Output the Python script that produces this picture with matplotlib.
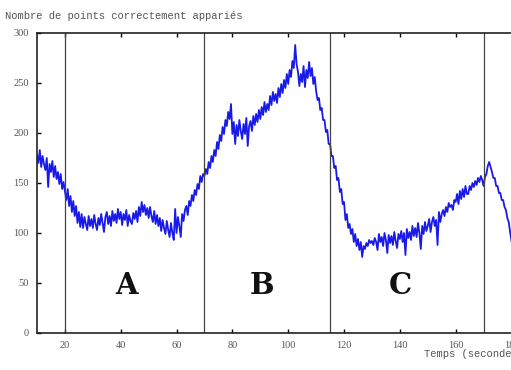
import numpy as np
import matplotlib
matplotlib.use("Agg")
import matplotlib.pyplot as plt

# time axis: 10 s to 180 s, one reading every 0.5 s
t_start, t_end, t_step = 10.0, 180.0, 0.5
matches = [
    # 10-20
    178,170,183,166,177,169,163,175,146,169,161,172,156,167,154,161,149,159,144,151,
    # 20-30
    142,133,144,127,137,121,132,117,127,110,121,106,119,105,116,109,103,117,107,114,
    # 30-40
    105,118,109,103,115,108,119,110,101,116,121,109,117,107,122,112,119,110,124,114,
    # 40-50
    121,108,119,113,123,107,118,112,109,120,114,122,111,126,117,131,121,128,118,125,
    # 50-60
    115,126,117,111,122,109,118,107,115,102,113,105,99,112,103,96,110,100,93,124,
    # 60-70
    100,116,107,96,119,112,123,127,118,132,127,138,132,143,138,149,144,157,151,159,
    # 70-80
    157,164,159,171,165,177,171,183,177,191,184,198,192,206,199,213,207,221,214,229,
    # 80-90
    199,211,189,208,197,213,202,194,209,199,215,187,207,212,202,217,208,219,211,223,
    # 90-100
    214,226,218,231,221,229,223,237,228,241,232,239,230,245,236,249,240,253,245,259,
    # 100-110
    249,263,256,272,265,288,269,261,247,259,251,267,246,263,255,271,257,265,249,256,
    # 110-120
    242,233,235,223,225,213,213,201,203,189,189,177,177,165,167,153,155,141,144,129,
    # 120-130
    131,113,119,105,109,99,104,91,99,87,94,83,91,76,87,84,90,87,93,90,
    # 130-140
    92,88,95,91,83,99,91,96,87,100,93,80,98,90,97,88,101,92,85,99,
    # 140-150
    94,102,91,100,78,104,95,101,93,107,97,105,96,110,100,84,107,99,111,102,
    # 150-160
    107,114,101,111,116,107,113,88,121,111,119,123,117,126,121,130,126,128,123,133,
    # 160-170
    131,139,129,142,134,144,136,147,139,139,147,143,150,146,152,148,155,151,157,153,
    # 170-180
    147,156,159,167,171,166,161,155,155,147,147,140,140,133,133,126,123,115,111,101,
    # 180
    92,
]
times = np.arange(len(matches)) * t_step + t_start

phase_bounds = [20, 70, 115, 170]
phase_labels = ["A", "B", "C"]
phase_label_x = [42, 90.5, 140]
phase_label_y = 48

x_ticks = [20, 40, 60, 80, 100, 120, 140, 160, 180]
y_ticks = [0, 50, 100, 150, 200, 250, 300]

title = "Nombre de points correctement appariés"
xlabel = "Temps (secondes)"

fig = plt.figure(figsize=(5.11, 3.70), dpi=100)
ax = fig.add_axes([37/511, 1-333/370, 1-37/511+0.001, 300/370])

ax.plot(times, matches, color="#1a1ae8", lw=1.3)
for b in phase_bounds:
    ax.axvline(b, color="#444444", lw=0.9)

for lab, lx in zip(phase_labels, phase_label_x):
    ax.text(lx, phase_label_y, lab, fontsize=21, fontweight="bold",
            family="DejaVu Serif", ha="center", va="center", color="#111111")

ax.set_xlim(10, 180)
ax.set_ylim(0, 300)
ax.set_xticks(x_ticks)
ax.set_yticks(y_ticks)
ax.tick_params(direction="in", length=3, width=1, labelsize=7.5,
               labelcolor="#555555", top=True, right=False, pad=6)
for lbl in ax.get_xticklabels() + ax.get_yticklabels():
    lbl.set_family("Liberation Serif")
for s in ax.spines.values():
    s.set_linewidth(1.2)
    s.set_color("#222222")

fig.text(5/511, 1-16/370, title, family="Liberation Mono", fontsize=7.6,
         color="#555555", ha="left", va="center")
fig.text(424/511, 1-354/370, xlabel, family="Liberation Mono", fontsize=7.6,
         color="#555555", ha="left", va="center")

fig.savefig("out.png", dpi=100)
